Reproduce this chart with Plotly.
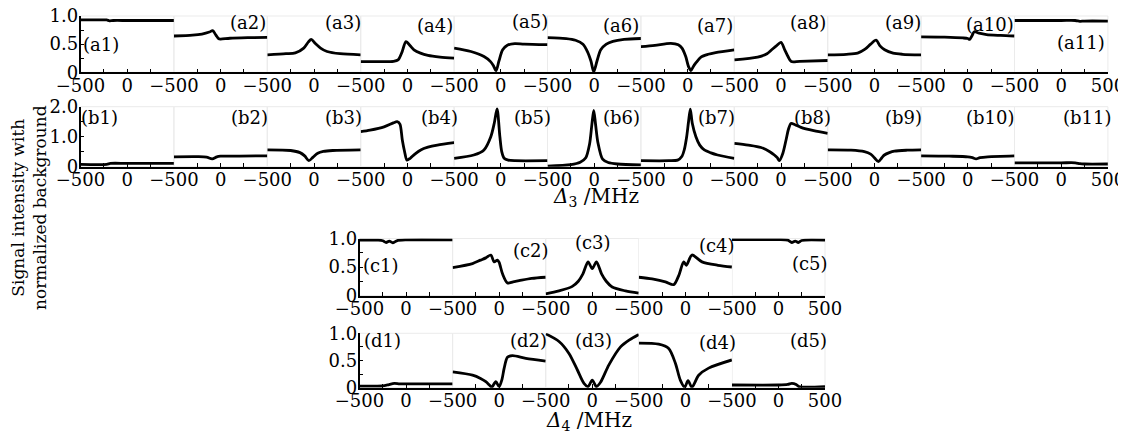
import plotly.graph_objects as go

# page window is 1126x436; the html body has an 8px margin, so the figure
# is made 8px smaller and every pixel position below is shifted by 8px.
PAGE_W, PAGE_H = 1126, 436
OFF = 8
W, H = PAGE_W - OFF, PAGE_H - OFF

# ---------------- data ----------------
# Row a : Delta3 scans (normalized background, range 0..1)
A1_X = [-500, -300, -220, -190, -150, 0, 250, 500]
A1_Y = [0.93, 0.93, 0.93, 0.915, 0.92, 0.92, 0.92, 0.92]
A2_X = [-500, -300, -200, -120, -85, -50, -20, 0, 100, 300, 500]
A2_Y = [0.645, 0.66, 0.68, 0.715, 0.74, 0.66, 0.595, 0.59, 0.605, 0.615, 0.62]
A3_X = [-500, -300, -200, -110, -60, -30, 15, 70, 140, 280, 500]
A3_Y = [0.31, 0.33, 0.345, 0.43, 0.54, 0.585, 0.51, 0.43, 0.37, 0.33, 0.31]
A4_X = [-500, -300, -150, -100, -60, -15, 30, 70, 140, 220, 350, 500]
A4_Y = [0.19, 0.19, 0.195, 0.22, 0.35, 0.545, 0.47, 0.40, 0.34, 0.30, 0.27, 0.25]
A5_X = [-500, -320, -180, -110, -80, -50, -20, 20, 70, 150, 250, 500]
A5_Y = [0.43, 0.37, 0.28, 0.19, 0.12, 0.03, 0.20, 0.40, 0.48, 0.51, 0.50, 0.49]
A6_X = [-500, -300, -200, -120, -70, -35, -5, 30, 70, 130, 200, 320, 500]
A6_Y = [0.615, 0.60, 0.57, 0.50, 0.36, 0.20, 0.01, 0.20, 0.40, 0.50, 0.55, 0.585, 0.60]
A7_X = [-500, -350, -180, -100, -60, -20, 10, 36, 60, 90, 143, 220, 300, 500]
A7_Y = [0.455, 0.48, 0.515, 0.49, 0.43, 0.28, 0.10, 0.03, 0.10, 0.17, 0.27, 0.32, 0.35, 0.40]
A8_X = [-500, -250, -150, -100, -50, 0, 40, 75, 110, 200, 500]
A8_Y = [0.22, 0.27, 0.33, 0.40, 0.47, 0.53, 0.40, 0.28, 0.19, 0.195, 0.21]
A9_X = [-500, -300, -180, -100, -40, 18, 60, 110, 200, 300, 500]
A9_Y = [0.31, 0.32, 0.34, 0.41, 0.50, 0.57, 0.47, 0.40, 0.34, 0.32, 0.31]
A10_X = [-500, -250, -50, 0, 20, 45, 70, 120, 200, 350, 500]
A10_Y = [0.63, 0.625, 0.61, 0.60, 0.585, 0.65, 0.72, 0.695, 0.67, 0.655, 0.645]
A11_X = [-500, 0, 150, 200, 250, 500]
A11_Y = [0.92, 0.92, 0.92, 0.905, 0.91, 0.91]

# Row b : Delta3 scans (range 0..2)
B1_X = [-500, -220, -180, 0, 500]
B1_Y = [0.08, 0.08, 0.11, 0.11, 0.11]
B2_X = [-500, -250, -150, -90, -40, 0, 200, 500]
B2_Y = [0.33, 0.335, 0.32, 0.26, 0.33, 0.35, 0.355, 0.36]
B3_X = [-500, -250, -150, -100, -55, -10, 40, 100, 200, 500]
B3_Y = [0.56, 0.54, 0.47, 0.36, 0.20, 0.32, 0.45, 0.51, 0.54, 0.56]
B4_X = [-500, -400, -250, -150, -110, -80, -55, -30, -5, 30, 80, 143, 220, 321, 500]
B4_Y = [1.17, 1.22, 1.33, 1.46, 1.50, 1.42, 0.90, 0.50, 0.22, 0.28, 0.42, 0.56, 0.65, 0.72, 0.80]
B5_X = [-500, -290, -180, -107, -70, -40, -10, 10, 36, 80, 150, 500]
B5_Y = [0.28, 0.39, 0.56, 1.00, 1.45, 1.93, 1.00, 0.50, 0.28, 0.22, 0.20, 0.20]
B6_X = [-500, -250, -150, -90, -50, -25, -5, 15, 40, 90, 150, 250, 500]
B6_Y = [0.02, 0.07, 0.15, 0.30, 0.75, 1.40, 1.88, 1.40, 0.80, 0.25, 0.14, 0.09, 0.06]
B7_X = [-500, -200, -107, -60, -36, -10, 10, 29, 50, 89, 130, 179, 250, 321, 500]
B7_Y = [0.20, 0.20, 0.22, 0.35, 0.56, 1.00, 1.50, 1.92, 1.45, 1.00, 0.72, 0.56, 0.46, 0.39, 0.28]
B8_X = [-500, -350, -214, -120, -71, -40, -18, 20, 54, 80, 107, 150, 214, 350, 500]
B8_Y = [0.78, 0.72, 0.64, 0.50, 0.39, 0.30, 0.20, 0.45, 0.89, 1.25, 1.44, 1.40, 1.31, 1.20, 1.11]
B9_X = [-500, -250, -107, -40, 0, 43, 80, 107, 160, 214, 350, 500]
B9_Y = [0.56, 0.55, 0.50, 0.42, 0.30, 0.17, 0.30, 0.39, 0.47, 0.52, 0.55, 0.56]
B10_X = [-500, -200, 0, 50, 89, 130, 214, 500]
B10_Y = [0.36, 0.35, 0.33, 0.30, 0.26, 0.30, 0.33, 0.36]
B11_X = [-500, 0, 150, 200, 250, 500]
B11_Y = [0.13, 0.13, 0.13, 0.10, 0.09, 0.09]

# Row c : Delta4 scans (range 0..1)
C1_X = [-500, -300, -250, -214, -180, -143, -100, 0, 500]
C1_Y = [0.97, 0.97, 0.96, 0.93, 0.955, 0.925, 0.96, 0.975, 0.975]
C2_X = [-500, -286, -200, -143, -89, -54, -18, 0, 36, 89, 150, 214, 350, 500]
C2_Y = [0.49, 0.56, 0.62, 0.66, 0.71, 0.59, 0.62, 0.58, 0.38, 0.22, 0.24, 0.26, 0.30, 0.32]
C3_X = [-500, -357, -214, -150, -100, -45, 0, 45, 100, 150, 214, 357, 500]
C3_Y = [0.03, 0.08, 0.16, 0.25, 0.38, 0.59, 0.47, 0.59, 0.38, 0.25, 0.15, 0.08, 0.04]
C4_X = [-500, -357, -214, -125, -71, -18, 11, 71, 179, 350, 500]
C4_Y = [0.32, 0.29, 0.24, 0.19, 0.35, 0.59, 0.53, 0.71, 0.59, 0.53, 0.50]
C5_X = [-500, 0, 100, 143, 180, 214, 250, 500]
C5_Y = [0.98, 0.98, 0.97, 0.93, 0.955, 0.93, 0.965, 0.97]

# Row d : Delta4 scans (range 0..1)
D1_X = [-500, -250, -200, -125, -71, 0, 500]
D1_Y = [0.03, 0.035, 0.05, 0.08, 0.07, 0.07, 0.07]
D2_X = [-500, -286, -200, -143, -100, -79, -36, 0, 30, 54, 89, 143, 286, 500]
D2_Y = [0.29, 0.23, 0.17, 0.11, 0.04, 0.01, 0.11, 0.02, 0.15, 0.36, 0.56, 0.59, 0.54, 0.49]
D3_X = [-500, -357, -250, -161, -89, -45, 0, 45, 89, 179, 304, 400, 500]
D3_Y = [0.99, 0.85, 0.63, 0.33, 0.08, 0.02, 0.14, 0.02, 0.10, 0.42, 0.75, 0.88, 0.98]
D4_X = [-500, -286, -179, -107, -54, -7, 29, 71, 143, 250, 500]
D4_Y = [0.82, 0.80, 0.72, 0.45, 0.14, 0.01, 0.13, 0.01, 0.23, 0.36, 0.51]
D5_X = [-500, 0, 100, 143, 190, 220, 500]
D5_Y = [0.05, 0.05, 0.06, 0.08, 0.06, 0.02, 0.02]

# tick labels
X_TICKS = [-500, 0]
X_TICKTEXT = ["\u2212500", "0"]
X_MINOR = [-250, 250]
Y_TICKS_1 = [0, 0.5, 1.0]
Y_TICKTEXT_1 = ["0", "0.5", "1.0"]
Y_MINOR_1 = [0.25, 0.75]
Y_TICKS_2 = [0, 1.0, 2.0]
Y_TICKTEXT_2 = ["0", "1.0", "2.0"]
Y_MINOR_2 = [0.5, 1.5]

ROW_A = [(A1_X, A1_Y), (A2_X, A2_Y), (A3_X, A3_Y), (A4_X, A4_Y), (A5_X, A5_Y), (A6_X, A6_Y),
         (A7_X, A7_Y), (A8_X, A8_Y), (A9_X, A9_Y), (A10_X, A10_Y), (A11_X, A11_Y)]
ROW_B = [(B1_X, B1_Y), (B2_X, B2_Y), (B3_X, B3_Y), (B4_X, B4_Y), (B5_X, B5_Y), (B6_X, B6_Y),
         (B7_X, B7_Y), (B8_X, B8_Y), (B9_X, B9_Y), (B10_X, B10_Y), (B11_X, B11_Y)]
ROW_C = [(C1_X, C1_Y), (C2_X, C2_Y), (C3_X, C3_Y), (C4_X, C4_Y), (C5_X, C5_Y)]
ROW_D = [(D1_X, D1_Y), (D2_X, D2_Y), (D3_X, D3_Y), (D4_X, D4_Y), (D5_X, D5_Y)]

# panel label positions (pixel centres on the page)
LABELS_A = [(101, 44), (248, 23), (343, 23), (435, 25), (530, 22), (621, 25), (715, 25),
            (808, 23), (903, 23), (990, 24), (1081, 43)]
LABELS_B = [(99, 118), (249, 118), (343, 118), (439, 118), (532, 117), (621, 118), (716, 118),
            (812, 118), (903, 117), (990, 118), (1087, 118)]
LABELS_C = [(381, 265), (531, 250), (593, 242), (717, 245), (810, 263)]
LABELS_D = [(382, 340), (528, 340), (593, 340), (717, 342), (808, 340)]

# ---------------- layout geometry (page pixels) ----------------
ROWS = [
    dict(name="a", data=ROW_A, left=80.5, width=93.4, top=16.0, bottom=72.3, yr=[0, 1.0],
         yt=Y_TICKS_1, ytt=Y_TICKTEXT_1, ym=Y_MINOR_1, labels=LABELS_A),
    dict(name="b", data=ROW_B, left=80.5, width=93.4, top=106.7, bottom=166.7, yr=[0, 2.0],
         yt=Y_TICKS_2, ytt=Y_TICKTEXT_2, ym=Y_MINOR_2, labels=LABELS_B),
    dict(name="c", data=ROW_C, left=359.5, width=93.1, top=238.5, bottom=295.5, yr=[0, 1.0],
         yt=Y_TICKS_1, ytt=Y_TICKTEXT_1, ym=Y_MINOR_1, labels=LABELS_C),
    dict(name="d", data=ROW_D, left=359.5, width=93.1, top=333.3, bottom=387.7, yr=[0, 1.0],
         yt=Y_TICKS_1, ytt=Y_TICKTEXT_1, ym=Y_MINOR_1, labels=LABELS_D),
]

FONT = "DejaVu Serif"
TICK_SIZE = 18
LABEL_SIZE = 18


def fx(px):
    return (px - OFF) / W


def fy(py):
    return 1 - (py - OFF) / H


fig = go.Figure()
layout = dict(
    width=W, height=H, margin=dict(l=0, r=0, t=0, b=0, autoexpand=False),
    paper_bgcolor="white", plot_bgcolor="white", showlegend=False,
    font=dict(family=FONT, size=TICK_SIZE, color="black"),
)
annotations = []
shapes = []
idx = 0
for row in ROWS:
    n = len(row["data"])
    for k, (xs, ys) in enumerate(row["data"]):
        idx += 1
        sfx = "" if idx == 1 else str(idx)
        x0 = row["left"] + k * row["width"]
        x1 = x0 + row["width"]
        last = k == n - 1
        first = k == 0
        tv = X_TICKS + ([500] if last else [])
        tt = X_TICKTEXT + (["500"] if last else [])
        layout["xaxis" + sfx] = dict(
            domain=[fx(x0), fx(x1)], range=[-500, 500], anchor="y" + sfx, automargin=False,
            showgrid=False, zeroline=False, showline=True, linecolor="black", linewidth=1.5,
            ticks="inside", ticklen=4, tickwidth=1, tickcolor="black",
            tickmode="array", tickvals=tv, ticktext=tt, ticklabelstandoff=-4,
            ticklabeloverflow="allow",
            minor=dict(tickmode="array", tickvals=X_MINOR, ticks="inside", ticklen=4,
                       tickwidth=1, tickcolor="black", showgrid=False),
            tickfont=dict(family=FONT, size=TICK_SIZE, color="black"),
        )
        ya = dict(
            domain=[fy(row["bottom"]), fy(row["top"])], range=row["yr"], anchor="x" + sfx,
            showgrid=False, zeroline=False, automargin=False,
        )
        if first:
            ya.update(showline=True, linecolor="black", linewidth=1.5, ticks="inside",
                      ticklen=4, tickwidth=1, tickcolor="black", tickmode="array",
                      tickvals=row["yt"], ticktext=row["ytt"], ticklabelstandoff=-3,
                      ticklabeloverflow="allow",
                      minor=dict(tickmode="array", tickvals=row["ym"], ticks="inside",
                                 ticklen=4, tickwidth=1, tickcolor="black", showgrid=False),
                      tickfont=dict(family=FONT, size=TICK_SIZE, color="black"))
        else:
            ya.update(showline=False, showticklabels=False, ticks="")
        layout["yaxis" + sfx] = ya
        # faint panel frame
        shapes.append(dict(type="rect", xref="x" + sfx + " domain", yref="y" + sfx + " domain",
                           x0=0, x1=1, y0=0, y1=1, line=dict(color="#ebebeb", width=1),
                           layer="below"))
        fig.add_trace(go.Scatter(
            x=xs, y=ys, mode="lines",
            line=dict(color="black", width=2.8, shape="spline", smoothing=0.8),
            xaxis="x" + sfx, yaxis="y" + sfx, hoverinfo="skip",
        ))
        lx, ly = row["labels"][k]
        annotations.append(dict(
            text="(%s%d)" % (row["name"], k + 1), x=fx(lx), y=fy(ly), xref="paper", yref="paper",
            xanchor="center", yanchor="middle", showarrow=False,
            font=dict(family=FONT, size=LABEL_SIZE, color="black"),
        ))

annotations.append(dict(text="<i>\u0394</i><sub>3</sub> /MHz", x=fx(596), y=fy(197),
                        xref="paper", yref="paper", xanchor="center", yanchor="middle",
                        showarrow=False, font=dict(family=FONT, size=20, color="black")))
annotations.append(dict(text="<i>\u0394</i><sub>4</sub> /MHz", x=fx(589), y=fy(421),
                        xref="paper", yref="paper", xanchor="center", yanchor="middle",
                        showarrow=False, font=dict(family=FONT, size=20, color="black")))
annotations.append(dict(text="Signal intensity with<br>normalized background", x=fx(29), y=fy(208),
                        xref="paper", yref="paper", xanchor="center", yanchor="middle",
                        textangle=-90, showarrow=False,
                        font=dict(family=FONT, size=17, color="black")))

layout["annotations"] = annotations
layout["shapes"] = shapes
fig.update_layout(**layout)
fig.write_html("out.html")
